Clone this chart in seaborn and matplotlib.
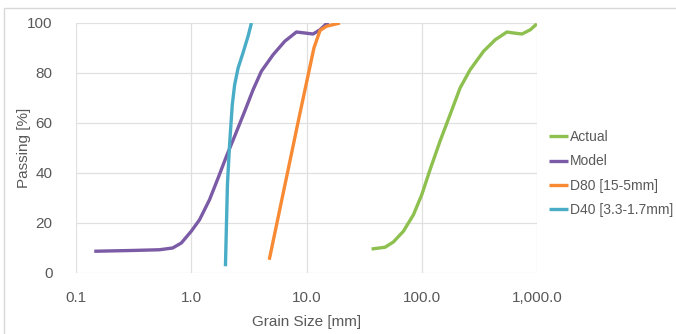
import matplotlib
matplotlib.use("Agg")
import matplotlib.pyplot as plt
import seaborn as sns
import pandas as pd
from matplotlib.patches import Rectangle

# Data
actual_x = [36.7, 48, 56.7, 69.3, 84.7, 100, 118, 144, 176, 215, 263, 344, 434, 548, 627, 741, 875, 1000]
actual_y = [9.6, 10.3, 12.4, 16.7, 23.3, 31.3, 41.3, 52.7, 63.3, 74, 81.3, 88.7, 93.3, 96.4, 96.0, 95.6, 97.3, 99.7]

model_x = [0.144, 0.30, 0.53, 0.69, 0.82, 1.0, 1.18, 1.44, 1.71, 2.02, 2.38, 2.91, 3.44, 4.06, 5.13, 6.48, 8.18, 9.67, 11.4, 13.1, 14.9, 15.6]
model_y = [8.7, 9.0, 9.3, 10, 12, 16.7, 21.3, 29.3, 38, 46.7, 54.7, 64.7, 73.3, 80.7, 87.3, 92.7, 96.4, 96.0, 95.6, 97.3, 99.7, 100]

d80_x = [4.75, 8.6, 11.6, 13.1, 14.9, 19.5]
d80_y = [5.3, 62, 90, 97, 98.7, 100]

d40_x = [1.98, 2.06, 2.15, 2.27, 2.38, 2.55, 2.81, 3.11, 3.33]
d40_y = [2.7, 35.3, 51.3, 67.3, 75.3, 82, 88, 94.7, 100]

series = ["Actual", "Model", "D80 [15-5mm]", "D40 [3.3-1.7mm]"]
colors = ["#8DC04F", "#7B5BA6", "#F78A33", "#4AADC7"]

xticks = [0.1, 1, 10, 100, 1000]
xtick_labels = ["0.1", "1.0", "10.0", "100.0", "1,000.0"]
yticks = [0, 20, 40, 60, 80, 100]

frames = []
for name, xs, ys in zip(series, [actual_x, model_x, d80_x, d40_x], [actual_y, model_y, d80_y, d40_y]):
    frames.append(pd.DataFrame({"size": xs, "passing": ys, "series": name}))
df = pd.concat(frames, ignore_index=True)

sns.set_theme(style="white")
plt.rcParams["font.family"] = ["Liberation Sans", "DejaVu Sans"]

fig = plt.figure(figsize=(6.76, 3.34), dpi=100)
ax = fig.add_axes([76 / 676, 1 - 273 / 334, (537 - 76) / 676, (273 - 23) / 334])

sns.lineplot(data=df, x="size", y="passing", hue="series", hue_order=series,
             palette=dict(zip(series, colors)), sort=False, estimator=None,
             linewidth=2.4, ax=ax)
for ln in ax.get_lines():
    ln.set_solid_joinstyle("round")
    ln.set_solid_capstyle("butt")

ax.set_xscale("log")
ax.set_xlim(0.1, 1000)
ax.set_ylim(0, 100)
ax.set_xticks(xticks)
ax.set_xticklabels(xtick_labels)
ax.minorticks_off()
ax.set_yticks(yticks)
ax.grid(True, color="#e0e0e0", linewidth=0.9)
ax.set_axisbelow(True)
for s in ax.spines.values():
    s.set_visible(False)
ax.tick_params(axis="both", length=0, labelsize=11, labelcolor="#595959")
ax.tick_params(axis="y", pad=17)
ax.tick_params(axis="x", pad=13)
ax.set_xlabel("Grain Size [mm]", fontsize=11, color="#595959", labelpad=7)
ax.set_ylabel("Passing [%]", fontsize=11, color="#595959", labelpad=-3)

leg = ax.legend(loc="upper left", bbox_to_anchor=(549 / 676, 1 - 130 / 334),
                bbox_transform=fig.transFigure, frameon=False, fontsize=10,
                handlelength=1.4, handletextpad=0.1, labelspacing=0.75,
                borderpad=0, borderaxespad=0)
for t in leg.get_texts():
    t.set_color("#595959")

fig.patches.append(Rectangle((4 / 676, -0.05), (680 - 4) / 676, 1 - 8 / 334 + 0.05,
                             transform=fig.transFigure, fill=False,
                             edgecolor="#d9d9d9", linewidth=1))

fig.savefig("out.png", dpi=100)
